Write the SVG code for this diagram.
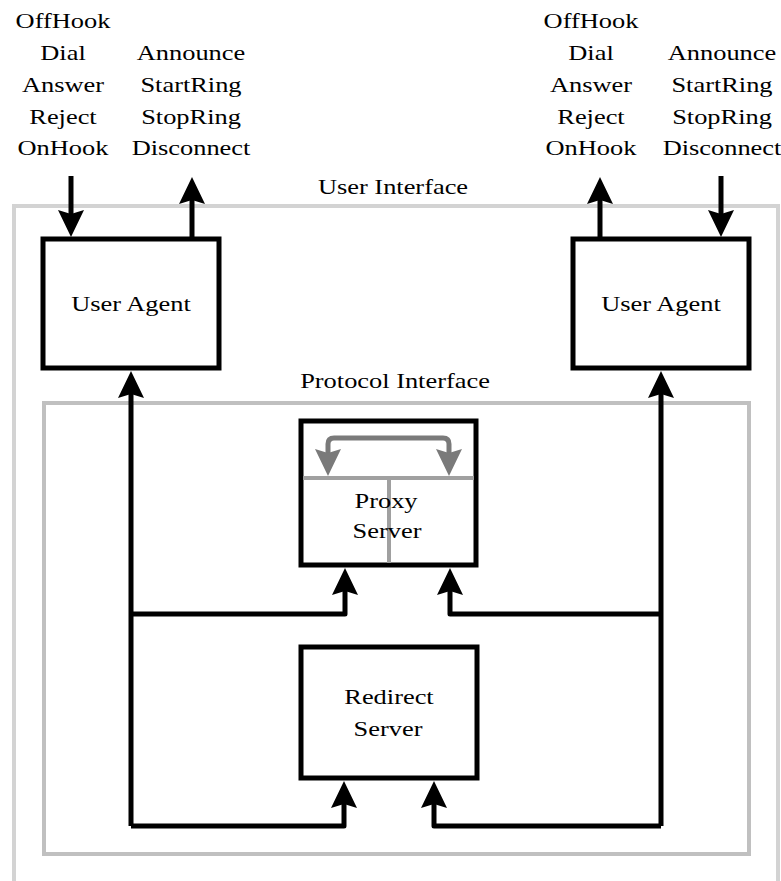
<svg xmlns="http://www.w3.org/2000/svg" width="781" height="881" viewBox="0 0 781 881">
  <style>
    text { font-family: "Liberation Serif", "Times New Roman", serif; font-size: 22px; fill: #000; text-anchor: middle; }
    .box { fill: #fff; stroke: #000; stroke-width: 5; }
    .frame { fill: none; stroke-width: 4; }
    .conn { fill: none; stroke: #000; stroke-width: 5; stroke-linejoin: round; }
    .inner { fill: none; stroke: #a0a0a0; stroke-width: 4; }
    .loop { fill: none; stroke: #7a7a7a; stroke-width: 5; stroke-linejoin: round; }
  </style>
  <defs>
    <marker id="arrow" viewBox="0 0 27 26" refX="4" refY="13" markerWidth="27" markerHeight="26" markerUnits="userSpaceOnUse" orient="auto">
      <path d="M0,0 L27,13 L0,26 L4,13 z" fill="#000"/>
    </marker>
    <marker id="arrowGray" viewBox="0 0 27 26" refX="4" refY="13" markerWidth="27" markerHeight="26" markerUnits="userSpaceOnUse" orient="auto-start-reverse">
      <path d="M0,0 L27,13 L0,26 L4,13 z" fill="#7a7a7a"/>
    </marker>
  </defs>

  <!-- interface frames -->
  <g id="user-interface">
    <rect class="frame" x="14" y="206" width="764" height="700" stroke="#d3d3d3"/>
    <text transform="translate(393 194) scale(1.2 1)">User Interface</text>
  </g>
  <g id="protocol-interface">
    <rect class="frame" x="44" y="403" width="705" height="451" stroke="#c0c0c0"/>
    <text transform="translate(395 388) scale(1.2 1)">Protocol Interface</text>
  </g>

  <!-- user event labels -->
  <g id="labels-left">
    <text transform="translate(63 28) scale(1.2 1)">OffHook</text>
    <text transform="translate(63 60) scale(1.2 1)">Dial</text>
    <text transform="translate(63 92) scale(1.2 1)">Answer</text>
    <text transform="translate(63 124) scale(1.2 1)">Reject</text>
    <text transform="translate(63 155) scale(1.2 1)">OnHook</text>
    <text transform="translate(191 60) scale(1.2 1)">Announce</text>
    <text transform="translate(191 92) scale(1.2 1)">StartRing</text>
    <text transform="translate(191 124) scale(1.2 1)">StopRing</text>
    <text transform="translate(191 155) scale(1.2 1)">Disconnect</text>
  </g>
  <g id="labels-right">
    <text transform="translate(591 28) scale(1.2 1)">OffHook</text>
    <text transform="translate(591 60) scale(1.2 1)">Dial</text>
    <text transform="translate(591 92) scale(1.2 1)">Answer</text>
    <text transform="translate(591 124) scale(1.2 1)">Reject</text>
    <text transform="translate(591 155) scale(1.2 1)">OnHook</text>
    <text transform="translate(722 60) scale(1.2 1)">Announce</text>
    <text transform="translate(722 92) scale(1.2 1)">StartRing</text>
    <text transform="translate(722 124) scale(1.2 1)">StopRing</text>
    <text transform="translate(722 155) scale(1.2 1)">Disconnect</text>
  </g>

  <!-- nodes -->
  <g id="user-agent-left">
    <rect class="box" x="43" y="239" width="176" height="129"/>
    <text transform="translate(131 311) scale(1.2 1)">User Agent</text>
  </g>
  <g id="user-agent-right">
    <rect class="box" x="573" y="239" width="176" height="129"/>
    <text transform="translate(661 311) scale(1.2 1)">User Agent</text>
  </g>
  <g id="proxy-server">
    <rect class="box" x="301" y="421" width="175" height="144"/>
    <line class="inner" x1="303" y1="478" x2="474" y2="478"/>
    <line class="inner" x1="389" y1="478" x2="389" y2="563"/>
    <path class="loop" d="M328,453 V444 Q328,438 334,438 H443 Q449,438 449,444 V453" marker-start="url(#arrowGray)" marker-end="url(#arrowGray)"/>
    <text transform="translate(386 508) scale(1.2 1)">Proxy</text>
    <text transform="translate(387 538) scale(1.2 1)">Server</text>
  </g>
  <g id="redirect-server">
    <rect class="box" x="301" y="647" width="176" height="131"/>
    <text transform="translate(389 704) scale(1.2 1)">Redirect</text>
    <text transform="translate(388 736) scale(1.2 1)">Server</text>
  </g>

  <!-- connectors -->
  <g id="connectors">
    <path class="conn" d="M71,176 V214" marker-end="url(#arrow)"/>
    <path class="conn" d="M192,239 V200" marker-end="url(#arrow)"/>
    <path class="conn" d="M600,239 V200" marker-end="url(#arrow)"/>
    <path class="conn" d="M721,176 V214" marker-end="url(#arrow)"/>
    <path class="conn" d="M131,826 V394" marker-end="url(#arrow)"/>
    <path class="conn" d="M661,826 V394" marker-end="url(#arrow)"/>
    <path class="conn" d="M131,614 H345 V591" marker-end="url(#arrow)"/>
    <path class="conn" d="M661,614 H450 V591" marker-end="url(#arrow)"/>
    <path class="conn" d="M131,826 H344 V804" marker-end="url(#arrow)"/>
    <path class="conn" d="M661,826 H434 V804" marker-end="url(#arrow)"/>
  </g>
</svg>
